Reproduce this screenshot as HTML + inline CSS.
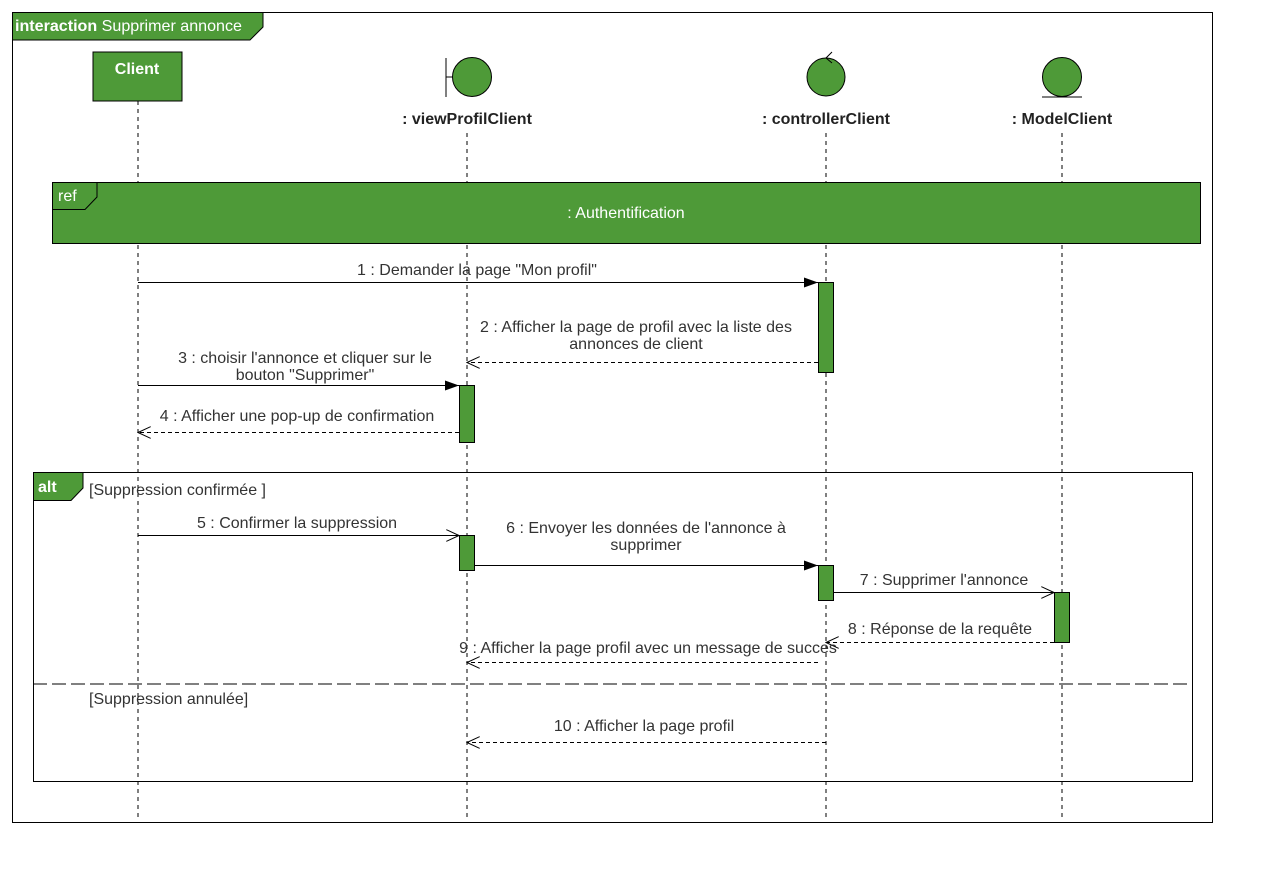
<!DOCTYPE html>
<html><head><meta charset="utf-8"><style>
html,body{margin:0;padding:0;background:#fff;}
svg text{font-family:"Liberation Sans",Arial,sans-serif;}
</style></head><body>
<svg width="1262" height="872" viewBox="0 0 1262 872" xmlns="http://www.w3.org/2000/svg">
<defs>
<marker id="fill" markerWidth="14" markerHeight="10" refX="14" refY="5" orient="auto" markerUnits="userSpaceOnUse"><path d="M0,0 L14,5 L0,10 Z" fill="#000"/></marker>
<marker id="open" markerWidth="14" markerHeight="12" refX="13" refY="6" orient="auto" markerUnits="userSpaceOnUse"><path d="M0,0 L13,6 L0,12" fill="none" stroke="#000" stroke-width="1"/></marker>
</defs>
<rect x="12.5" y="12.5" width="1200" height="810" fill="#fff" stroke="#000"/>
<path d="M12.5,12.5 H263 V27 L250,40 H12.5 Z" fill="#4e9a38" stroke="#000"/>
<text x="15" y="31" font-size="16" fill="#fff" textLength="227" lengthAdjust="spacingAndGlyphs"><tspan font-weight="bold">interaction</tspan> Supprimer annonce</text>

<g stroke="#000" stroke-dasharray="4,4" stroke-width="1">
<line x1="138" y1="101" x2="138" y2="820"/>
<line x1="467" y1="133" x2="467" y2="820"/>
<line x1="826" y1="133" x2="826" y2="820"/>
<line x1="1062" y1="133" x2="1062" y2="820"/>
</g>

<rect x="93" y="52" width="89" height="49" fill="#4e9a38" stroke="#000"/>
<text x="137" y="74" font-size="16" font-weight="bold" fill="#fff" text-anchor="middle">Client</text>
<circle cx="472" cy="77" r="19.5" fill="#4e9a38" stroke="#000"/>
<line x1="446" y1="58" x2="446" y2="97" stroke="#000"/><line x1="446" y1="77" x2="452" y2="77" stroke="#000"/>
<circle cx="826" cy="77" r="19" fill="#4e9a38" stroke="#000"/>
<path d="M832,52 L826,58 L832,63" fill="none" stroke="#000"/>
<circle cx="1062" cy="77" r="19.5" fill="#4e9a38" stroke="#000"/>
<line x1="1042" y1="97" x2="1082" y2="97" stroke="#000"/>
<g font-size="16" font-weight="bold" fill="#222" text-anchor="middle">
<text x="467" y="124">: viewProfilClient</text>
<text x="826" y="124">: controllerClient</text>
<text x="1062" y="124">: ModelClient</text>
</g>

<rect x="52.5" y="182.5" width="1148" height="61" fill="#4e9a38" stroke="#000"/>
<path d="M52.5,182.5 H97 V197 L85,209.5 H52.5" fill="none" stroke="#000"/>
<text x="58" y="201" font-size="16" fill="#fff">ref</text>
<text x="626" y="218" font-size="16" fill="#fff" text-anchor="middle">: Authentification</text>

<rect x="33.5" y="472.5" width="1159" height="309" fill="none" stroke="#000"/>
<path d="M33.5,472.5 H83 V488 L71,500.5 H33.5 Z" fill="#4e9a38" stroke="#000"/>
<text x="38" y="492" font-size="16" font-weight="bold" fill="#fff">alt</text>
<text x="89" y="495" font-size="16" fill="#333">[Suppression confirmée ]</text>
<line x1="33" y1="684" x2="1192" y2="684" stroke="#000" stroke-dasharray="14,5"/>
<text x="89" y="704" font-size="16" fill="#333">[Suppression annulée]</text>

<g fill="#4e9a38" stroke="#000">
<rect x="818.5" y="282.5" width="15" height="90"/>
<rect x="459.5" y="385.5" width="15" height="57"/>
<rect x="459.5" y="535.5" width="15" height="35"/>
<rect x="818.5" y="565.5" width="15" height="35"/>
<rect x="1054.5" y="592.5" width="15" height="50"/>
</g>

<g stroke="#000" stroke-width="1" fill="none">
<line x1="138" y1="282.5" x2="818" y2="282.5" marker-end="url(#fill)"/>
<line x1="818" y1="362.5" x2="467" y2="362.5" stroke-dasharray="4,3" marker-end="url(#open)"/>
<line x1="138" y1="385.5" x2="459" y2="385.5" marker-end="url(#fill)"/>
<line x1="459" y1="432.5" x2="138" y2="432.5" stroke-dasharray="4,3" marker-end="url(#open)"/>
<line x1="138" y1="535.5" x2="459" y2="535.5" marker-end="url(#open)"/>
<line x1="475" y1="565.5" x2="818" y2="565.5" marker-end="url(#fill)"/>
<line x1="834" y1="592.5" x2="1054" y2="592.5" marker-end="url(#open)"/>
<line x1="1054" y1="642.5" x2="826" y2="642.5" stroke-dasharray="4,3" marker-end="url(#open)"/>
<line x1="818" y1="662.5" x2="467" y2="662.5" stroke-dasharray="4,3" marker-end="url(#open)"/>
<line x1="826" y1="742.5" x2="467" y2="742.5" stroke-dasharray="4,3" marker-end="url(#open)"/>
</g>
<g font-size="16" fill="#333" text-anchor="middle">
<text x="477" y="275">1 : Demander la page "Mon profil"</text>
<text x="636" y="332">2 : Afficher la page de profil avec la liste des</text>
<text x="636" y="349">annonces de client</text>
<text x="305" y="363">3 : choisir l'annonce et cliquer sur le</text>
<text x="305" y="380">bouton "Supprimer"</text>
<text x="297" y="421">4 : Afficher une pop-up de confirmation</text>
<text x="297" y="528">5 : Confirmer la suppression</text>
<text x="646" y="533">6 : Envoyer les données de l'annonce à</text>
<text x="646" y="550">supprimer</text>
<text x="944" y="585">7 : Supprimer l'annonce</text>
<text x="940" y="634">8 : Réponse de la requête</text>
<text x="648" y="653">9 : Afficher la page profil avec un message de succes</text>
<text x="644" y="731">10 : Afficher la page profil</text>
</g>
</svg>
</body></html>
